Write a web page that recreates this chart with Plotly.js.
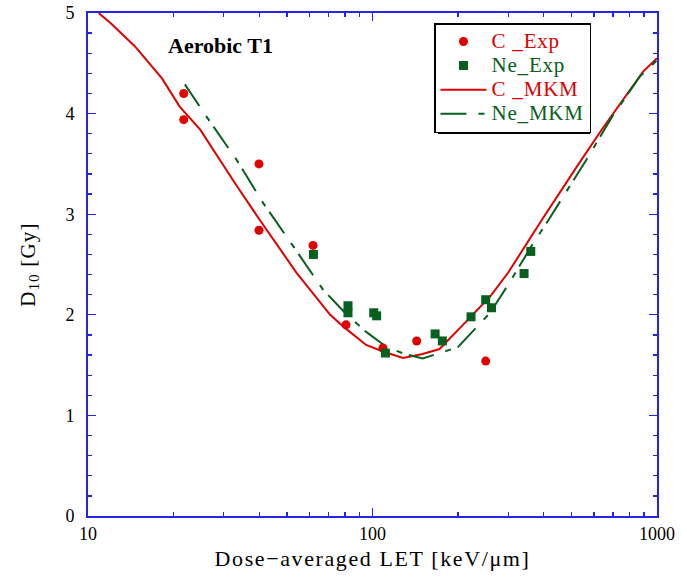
<!DOCTYPE html>
<html>
<head>
<meta charset="utf-8">
<script src="https://cdn.plot.ly/plotly-3.0.1.min.js"></script>
<style>
  html, body { margin: 0; padding: 0; background: #fff; }
  #chart { width: 681px; height: 579px; }
</style>
</head>
<body>
<div id="chart"></div>
<script>
// Carbon ion measurements (dose-averaged LET, keV/um) and D10 (Gy)
const cExpLET = [21.7, 21.7, 39.9, 39.9, 61.8, 80.7, 108.8, 143, 250];
const cExpD10 = [4.20, 3.94, 3.50, 2.84, 2.69, 1.90, 1.67, 1.74, 1.54];

// Neon ion measurements
const neExpLET = [62, 82, 82, 101, 103.4, 111, 166, 176, 222, 250, 262, 341, 360];
const neExpD10 = [2.60, 2.09, 2.02, 2.02, 1.99, 1.62, 1.81, 1.74, 1.98, 2.15, 2.07, 2.41, 2.63];

// MKM model curves
const cMkmLET = [10.9, 12, 14.6, 18.2, 21, 24.8, 33, 40, 54, 71, 80, 95, 110, 128, 150, 172, 200, 259, 300, 393, 522, 639, 895, 1000];
const cMkmD10 = [5.0, 4.9, 4.67, 4.35, 4.07, 3.84, 3.30, 2.95, 2.42, 2.0, 1.87, 1.70, 1.63, 1.57, 1.61, 1.66, 1.85, 2.18, 2.42, 2.94, 3.47, 3.84, 4.42, 4.55];

const neMkmLET = [21.9, 26.1, 33.3, 41.3, 52.7, 60.3, 67, 80, 95, 112, 130, 150, 200, 259, 300, 367, 415, 573, 692, 871, 1000];
const neMkmD10 = [4.29, 3.97, 3.54, 3.11, 2.68, 2.445, 2.25, 2.02, 1.83, 1.68, 1.61, 1.565, 1.68, 2.02, 2.30, 2.71, 2.94, 3.57, 3.96, 4.37, 4.53];

const xTickVals = [10, 100, 1000];
const xTickText = ['10', '100', '1000'];

const RED = '#e00000';
const GREEN = '#07601d';
const BLUE = '#2424e6';
const SERIF = 'Liberation Serif, Times New Roman, serif';

function legendName(text, color) {
  return '<span style="font-size:21px;letter-spacing:0.8px;color:' + color + '">' + text + '</span>';
}

const traces = [
  {
    x: cMkmLET, y: cMkmD10, type: 'scatter', mode: 'lines',
    name: legendName('C _MKM', RED), legendrank: 3,
    line: { color: RED, width: 2 }
  },
  {
    x: neMkmLET, y: neMkmD10, type: 'scatter', mode: 'lines',
    name: legendName('Ne_MKM', GREEN), legendrank: 4,
    line: { color: GREEN, width: 2, dash: '26px,12px,6px,7px' }
  },
  {
    x: cExpLET, y: cExpD10, type: 'scatter', mode: 'markers',
    name: legendName('C _Exp', RED), legendrank: 1,
    marker: { color: RED, size: 9, symbol: 'circle' }
  },
  {
    x: neExpLET, y: neExpD10, type: 'scatter', mode: 'markers',
    name: legendName('Ne_Exp', GREEN), legendrank: 2,
    marker: { color: GREEN, size: 9, symbol: 'square' }
  }
];

const L = 88, R = 24, T = 13, B = 63;
const W = 681 - L - R, H = 579 - T - B;
const px = v => (v - L) / W;
const py = v => (579 - B - v) / H;

const layout = {
  width: 681, height: 579,
  margin: { l: L, r: R, t: T, b: B },
  paper_bgcolor: '#fff', plot_bgcolor: '#fff',
  font: { family: SERIF, color: '#000', size: 16 },
  showlegend: true,
  legend: {
    x: px(434), y: py(23), xanchor: 'left', yanchor: 'top',
    bgcolor: '#fff', bordercolor: '#000', borderwidth: 1.5,
    font: { family: SERIF, size: 16.2 },
    itemwidth: 46, traceorder: 'normal'
  },
  xaxis: {
    type: 'log', range: [1, 3],
    tickvals: xTickVals, ticktext: xTickText,
    ticks: 'inside', ticklen: 8, tickwidth: 1.3, tickcolor: BLUE,
    showline: true, linecolor: BLUE, linewidth: 2, mirror: 'ticks',
    showgrid: false, zeroline: false,
    minor: { ticks: 'inside', ticklen: 4, tickwidth: 1.3, tickcolor: BLUE, dtick: 'D1', showgrid: false },
    tickfont: { family: SERIF, size: 18 },
    title: {
      text: '<span style="letter-spacing:1.6px">Dose\u2212averaged LET [keV/\u03bcm]</span>',
      font: { family: SERIF, size: 22 }, standoff: 8
    }
  },
  yaxis: {
    range: [0, 5], dtick: 1,
    ticks: 'inside', ticklen: 8, tickwidth: 1.3, tickcolor: BLUE,
    showline: true, linecolor: BLUE, linewidth: 2, mirror: 'ticks',
    showgrid: false, zeroline: false,
    minor: { ticks: 'inside', ticklen: 4, tickwidth: 1.3, tickcolor: BLUE, dtick: 0.2, showgrid: false },
    tickfont: { family: SERIF, size: 18 },
    ticklabelstandoff: 8,
    title: {
      text: '<span style="letter-spacing:1.2px">D<sub>10</sub> [Gy]</span>',
      font: { family: SERIF, size: 21 }, standoff: 24
    }
  },
  shapes: [
    {
      // drop shadow behind the legend box
      type: 'rect', xref: 'paper', yref: 'paper', layer: 'above',
      x0: px(438), x1: px(590), y0: py(134), y1: py(27),
      fillcolor: '#000', line: { width: 0 }
    }
  ],
  annotations: [
    {
      text: '<b>Aerobic T1</b>', xref: 'paper', yref: 'paper',
      x: px(220), y: py(45), xanchor: 'center', yanchor: 'middle',
      showarrow: false, font: { family: SERIF, size: 22, color: '#000' }
    }
  ]
};

Plotly.newPlot('chart', traces, layout, { displayModeBar: false, staticPlot: true });
</script>
</body>
</html>
